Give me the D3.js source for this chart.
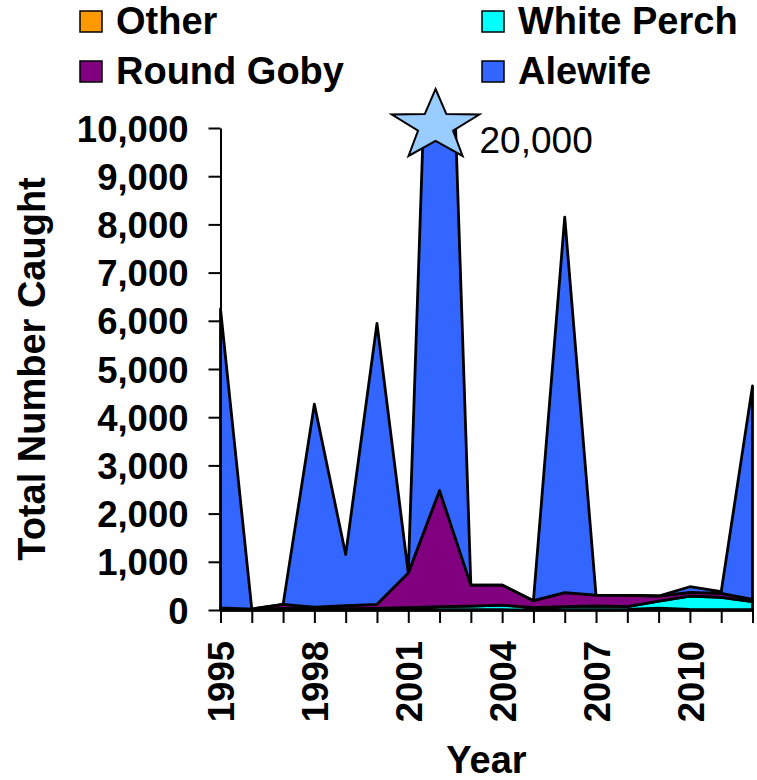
<!DOCTYPE html>
<html>
<head>
<meta charset="utf-8">
<script src="https://cdn.jsdelivr.net/npm/d3@7"></script>
<style>
  html, body { margin: 0; padding: 0; background: #fff; }
  svg { display: block; }
  text { font-family: "Liberation Sans", Arial, Helvetica, sans-serif; }
</style>
</head>
<body>
<svg id="chart" width="757" height="780"></svg>
<script>
// ---- Data ----
const years = [1995,1996,1997,1998,1999,2000,2001,2002,2003,2004,2005,2006,2007,2008,2009,2010,2011,2012];
const other      = [3, 2, 5, 4, 5, 5, 5, 5, 5, 5, 3, 5, 5, 10, 40, 10, 5, 5];
const whitePerch = [22, 8, 30, 26, 25, 30, 45, 65, 75, 95, 47, 65, 78, 60, 146, 280, 257, 167];
const roundGoby  = [20, 10, 82, 30, 60, 82, 720, 2410, 437, 417, 143, 290, 227, 235, 104, 76, 83, 48];
const alewife    = [6200, 0, 0, 4210, 1060, 5830, 0, 17520, 0, 0, 0, 7790, 0, 0, 0, 117, 35, 4430];
const seriesNames = ["Other", "White Perch", "Round Goby", "Alewife"];
const seriesColors = ["#FF9900", "#00FFFF", "#800080", "#3366FF"];
const yTickValues = [0,1000,2000,3000,4000,5000,6000,7000,8000,9000,10000];
const xLabelYears = [1995,1998,2001,2004,2007,2010];
const clippedYear = 2002;
const clippedLabel = "20,000";

// ---- Build table ----
const seriesData = [other, whitePerch, roundGoby, alewife];
const table = years.map((yr, i) => {
  const row = { year: yr };
  seriesNames.forEach((n, k) => row[n] = seriesData[k][i]);
  return row;
});

const svg = d3.select("#chart");
const x = d3.scaleLinear().domain([1995, 2012]).range([220.5, 752.5]);
const y = d3.scaleLinear().domain([0, 10000]).range([610, 128]);
const color = d3.scaleOrdinal().domain(seriesNames).range(seriesColors);

const stacked = d3.stack().keys(seriesNames)(table);

svg.append("defs").append("clipPath").attr("id", "plotClip")
  .append("rect")
  .attr("x", x(1995) - 3).attr("y", y(10000))
  .attr("width", x(2012) - x(1995) + 6).attr("height", y(0) - y(10000) + 4);

const area = d3.area()
  .x(d => x(d.data.year))
  .y0(d => y(d[0]))
  .y1(d => y(d[1]));

svg.append("g").attr("clip-path", "url(#plotClip)")
  .selectAll("path")
  .data(stacked)
  .join("path")
  .attr("d", area)
  .attr("fill", d => color(d.key))
  .attr("stroke", "#000")
  .attr("stroke-width", 2.8)
  .attr("stroke-linejoin", "round");

// ---- Axes ----
const yAxis = svg.append("g")
  .attr("transform", `translate(${x(1995)},0)`)
  .call(d3.axisLeft(y).tickValues(yTickValues).tickFormat(d3.format(",")).tickSize(12).tickSizeOuter(0).tickPadding(20));
yAxis.select(".domain").attr("stroke", "#000").attr("stroke-width", 2);
yAxis.selectAll(".tick line").attr("stroke", "#000").attr("stroke-width", 2);
yAxis.selectAll(".tick text")
  .attr("fill", "#000")
  .style("font-size", "36.5px")
  .style("font-weight", "bold")
  .attr("dy", "0.36em");

const xAxis = svg.append("g")
  .attr("transform", `translate(0,${y(0)})`)
  .call(d3.axisBottom(x).tickValues(years).tickFormat(d => xLabelYears.includes(d) ? String(d) : "").tickSize(13).tickSizeOuter(0));
xAxis.select(".domain").attr("stroke", "#000").attr("stroke-width", 2.5);
xAxis.selectAll(".tick line").attr("stroke", "#000").attr("stroke-width", 2);
xAxis.selectAll(".tick text")
  .attr("fill", "#000")
  .style("font-size", "36.5px")
  .style("font-weight", "bold")
  .attr("text-anchor", "end")
  .attr("transform", "rotate(-90)")
  .attr("x", -31)
  .attr("y", 0)
  .attr("dy", "0.36em");

// ---- Axis titles ----
svg.append("text")
  .attr("transform", `translate(45,${(y(0) + y(10000)) / 2})`)
  .append("tspan")
  .attr("transform", "rotate(-90)");
svg.append("text")
  .attr("transform", `translate(45,${(y(0) + y(10000)) / 2}) rotate(-90)`)
  .attr("text-anchor", "middle")
  .style("font-size", "38px")
  .style("font-weight", "bold")
  .text("Total Number Caught");

svg.append("text")
  .attr("x", (x(1995) + x(2012)) / 2)
  .attr("y", 773)
  .attr("text-anchor", "middle")
  .style("font-size", "38px")
  .style("font-weight", "bold")
  .text("Year");

// ---- Star marker for clipped value ----
const starCx = x(clippedYear) - 4, starCy = y(10000) - 2;
const rx = 46, ry = 37, innerRatio = 0.4;
const starPts = d3.range(10).map(i => {
  const a = -Math.PI / 2 + i * Math.PI / 5;
  const r = i % 2 === 0 ? 1 : innerRatio;
  return [starCx + Math.cos(a) * rx * r, starCy + Math.sin(a) * ry * r];
});
svg.append("path")
  .attr("d", d3.line()(starPts) + "Z")
  .attr("fill", "#99CCFF")
  .attr("stroke", "#000")
  .attr("stroke-width", 2)
  .attr("stroke-linejoin", "miter");
svg.append("text")
  .attr("x", starCx + 44)
  .attr("y", 153)
  .style("font-size", "37px")
  .text(clippedLabel);

// ---- Legend ----
const legendItems = [
  { name: "Other", col: 0, row: 0 },
  { name: "White Perch", col: 1, row: 0 },
  { name: "Round Goby", col: 0, row: 1 },
  { name: "Alewife", col: 1, row: 1 }
];
const colX = [80, 482], rowY = [11, 61];
const lg = svg.append("g").selectAll("g").data(legendItems).join("g")
  .attr("transform", d => `translate(${colX[d.col]},${rowY[d.row]})`);
lg.append("rect")
  .attr("width", 22).attr("height", 21)
  .attr("fill", d => color(d.name))
  .attr("stroke", "#000").attr("stroke-width", 1.5);
lg.append("text")
  .attr("x", 36).attr("y", 23)
  .style("font-size", "38px")
  .style("font-weight", "bold")
  .text(d => d.name);
</script>
</body>
</html>
